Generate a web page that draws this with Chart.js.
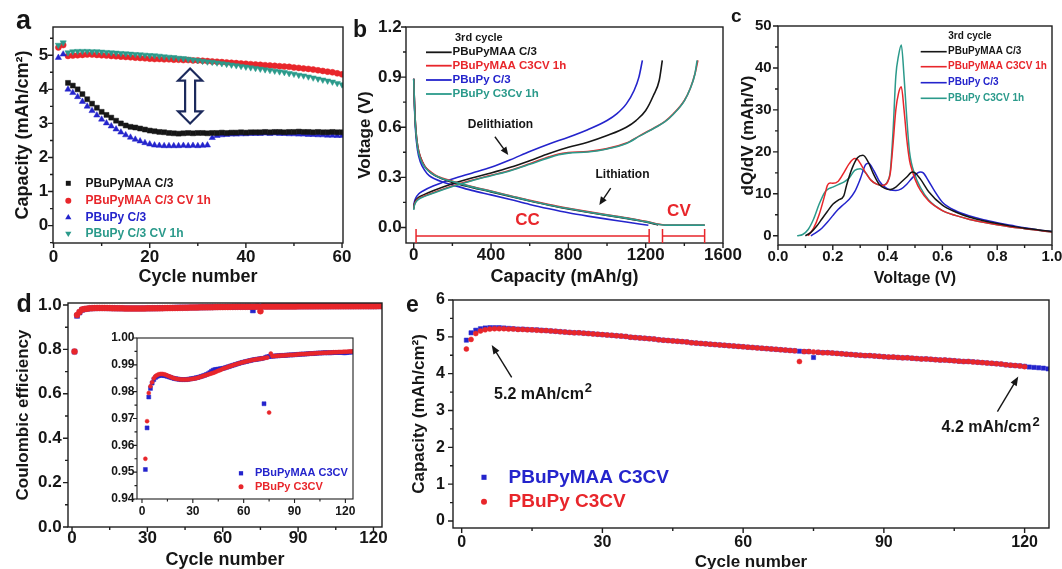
<!DOCTYPE html>
<html><head><meta charset="utf-8">
<script src="https://cdn.jsdelivr.net/npm/chart.js@4.4.1/dist/chart.umd.min.js"></script>
<style>
html,body{margin:0;padding:0;background:#fff;}
body{width:1062px;height:569px;overflow:hidden;position:relative;}
canvas{position:absolute;}
</style></head><body>
<canvas id="letters" width="1062" height="569" style="left:0;top:0;width:1062px;height:569px"></canvas>
<script>
const FONT = "'Liberation Sans', Arial, Helvetica, sans-serif";
const COL = {black:'#161616', red:'#e8262b', blue:'#2424cc', teal:'#2b9a8b', navy:'#1c2a5c'};

// ---------- Panel a: capacity vs cycle ----------
const cyclesA = [1,2,3,4,5,6,7,8,9,10,11,12,13,14,15,16,17,18,19,20,21,22,23,24,25,26,27,28,29,30,
 31,32,33,34,35,36,37,38,39,40,41,42,43,44,45,46,47,48,49,50,51,52,53,54,55,56,57,58,59,60];
const aTicksX = [0,20,40,60];
const aTicksY = [0,1,2,3,4,5];
const aBlack = [null,null,4.19,4.11,4.00,3.86,3.71,3.58,3.46,3.34,
 3.25,3.17,3.08,3.00,2.94,2.90,2.88,2.85,2.82,2.79,
 2.77,2.75,2.74,2.72,2.71,2.70,2.71,2.72,2.71,2.72,
 2.72,2.71,2.72,2.72,2.73,2.72,2.73,2.73,2.74,2.73,
 2.74,2.74,2.74,2.75,2.74,2.75,2.75,2.74,2.75,2.75,
 2.76,2.75,2.75,2.74,2.75,2.74,2.74,2.75,2.74,2.74];
const aRed = [5.23,5.30,4.98,4.99,5.00,5.01,5.02,5.02,5.01,5.00,
 4.99,4.98,4.97,4.96,4.95,4.94,4.93,4.92,4.91,4.90,
 4.89,4.89,4.88,4.88,4.87,4.87,4.86,4.86,4.85,4.85,
 4.84,4.83,4.82,4.81,4.80,4.79,4.78,4.77,4.76,4.75,
 4.74,4.73,4.72,4.71,4.70,4.69,4.68,4.67,4.66,4.64,
 4.63,4.61,4.60,4.58,4.56,4.54,4.52,4.50,4.47,4.44];
const aBlue = [4.93,5.03,4.00,3.90,3.78,3.64,3.50,3.37,3.24,3.12,
 3.01,2.92,2.83,2.74,2.66,2.59,2.53,2.48,2.43,2.39,
 2.36,2.35,2.34,2.34,2.34,2.34,2.35,2.34,2.35,2.34,
 2.35,2.36,2.58,2.64,2.66,2.67,2.68,2.68,2.69,2.69,
 2.70,2.70,2.70,2.71,2.70,2.71,2.70,2.70,2.69,2.69,
 2.68,2.68,2.67,2.67,2.66,2.66,2.65,2.65,2.64,2.64];
const aTeal = [5.30,5.37,5.08,5.11,5.12,5.12,5.12,5.11,5.11,5.10,
 5.09,5.08,5.07,5.06,5.05,5.04,5.03,5.02,5.01,5.00,
 4.99,4.98,4.96,4.95,4.94,4.92,4.91,4.89,4.87,4.85,
 4.83,4.81,4.80,4.78,4.76,4.74,4.72,4.70,4.68,4.66,
 4.64,4.62,4.60,4.58,4.56,4.54,4.52,4.50,4.47,4.45,
 4.42,4.40,4.37,4.34,4.31,4.28,4.25,4.22,4.18,4.14];
const aLabels = ['PBuPyMAA C/3','PBuPyMAA C/3 CV 1h','PBuPy C/3','PBuPy C/3 CV 1h'];

// ---------- Panel b: voltage profiles (3rd cycle) ----------
const bTicksX = [0,400,800,1200,1600];
const bTicksY = [0.0,0.3,0.6,0.9,1.2];
const bBlackLithX = [0,4,10,20,35,55,80,110,150,200,300,400,500,600,700,800,900,1000,1100,1200,1265];
const bBlackLithY = [0.89,0.74,0.60,0.49,0.42,0.37,0.335,0.31,0.29,0.27,0.24,0.213,0.185,0.158,0.133,0.111,0.091,0.072,0.054,0.033,0.015];
const bRedLithX = [0,4,10,20,35,55,80,110,150,200,300,400,500,600,700,800,900,1000,1100,1200,1300,1506];
const bRedLithY = [0.89,0.74,0.60,0.49,0.42,0.37,0.34,0.315,0.295,0.277,0.245,0.218,0.19,0.162,0.137,0.115,0.095,0.076,0.058,0.037,0.015,0.015];
const bTealLithX = [0,4,10,20,35,55,80,110,150,200,300,400,500,600,700,800,900,1000,1100,1200,1300,1506];
const bTealLithY = [0.89,0.73,0.59,0.48,0.41,0.365,0.335,0.312,0.292,0.275,0.243,0.216,0.188,0.16,0.135,0.113,0.093,0.074,0.056,0.035,0.014,0.014];
const bBlueLithX = [0,4,10,20,35,55,80,110,150,200,300,400,500,600,700,800,900,1000,1100,1214];
const bBlueLithY = [0.89,0.72,0.57,0.46,0.39,0.345,0.31,0.29,0.272,0.255,0.222,0.195,0.167,0.138,0.112,0.088,0.068,0.05,0.033,0.013];
const bBlueDelX = [0,3,10,25,50,100,150,200,300,400,500,600,700,800,900,1000,1050,1100,1140,1165,1183];
const bBlueDelY = [0.12,0.15,0.175,0.2,0.22,0.248,0.27,0.29,0.325,0.36,0.405,0.455,0.5,0.54,0.585,0.64,0.68,0.74,0.82,0.9,1.0];
const bBlackDelX = [0,3,10,25,50,100,200,300,400,500,600,700,800,900,1000,1100,1150,1200,1240,1270,1286];
const bBlackDelY = [0.115,0.14,0.16,0.18,0.195,0.22,0.262,0.296,0.326,0.36,0.4,0.443,0.48,0.51,0.55,0.6,0.64,0.7,0.79,0.88,1.0];
const bRedDelX = [0,3,10,25,50,100,200,300,400,500,600,700,750,800,900,1000,1100,1170,1250,1300,1343,1400,1430,1455,1470];
const bRedDelY = [0.11,0.135,0.155,0.172,0.187,0.208,0.248,0.282,0.312,0.343,0.382,0.423,0.44,0.448,0.455,0.472,0.505,0.55,0.6,0.635,0.68,0.76,0.83,0.92,1.0];
const bTealDelX = [0,3,10,25,50,100,200,300,400,500,600,700,750,800,900,1000,1100,1170,1250,1300,1343,1400,1430,1455,1466];
const bTealDelY = [0.105,0.13,0.15,0.168,0.183,0.205,0.245,0.28,0.31,0.34,0.378,0.418,0.435,0.445,0.452,0.47,0.503,0.548,0.598,0.633,0.678,0.758,0.83,0.92,1.0];
const bLabels = ['PBuPyMAA C/3','PBuPyMAA C3CV 1h','PBuPy C/3','PBuPy C3Cv 1h'];

// ---------- Panel c: dQ/dV ----------
const cTicksX = [0,0.2,0.4,0.6,0.8,1.0];
const cTicksY = [0,10,20,30,40,50];
const cBlackX = [0.10,0.12,0.14,0.16,0.18,0.20,0.22,0.24,0.25,0.27,0.29,0.31,0.33,0.35,0.37,0.39,0.41,0.43,0.45,0.47,0.49,0.50,0.52,0.55,0.60,0.65,0.70,0.75,0.80,0.85,0.90,0.95,1.00];
const cBlackY = [0,0.8,2.2,4.0,5.8,7.5,8.5,9.5,12.0,16.0,18.6,19.2,17.5,14.5,12.2,11.3,11.0,11.6,12.8,14.0,15.2,15.0,13.5,10.5,7.3,5.6,4.4,3.6,2.9,2.3,1.8,1.4,1.0];
const cRedX = [0.11,0.13,0.15,0.17,0.18,0.19,0.20,0.22,0.24,0.26,0.28,0.29,0.30,0.32,0.34,0.36,0.38,0.40,0.41,0.42,0.43,0.44,0.45,0.46,0.47,0.48,0.49,0.50,0.52,0.55,0.60,0.65,0.70,0.75,0.80,0.85,0.90,0.95,1.00];
const cRedY = [0,1.8,5.0,9.5,12.0,12.6,12.5,13.0,15.0,17.2,18.4,18.2,17.3,15.0,13.2,12.3,12.0,12.8,15.0,22,30,34,35.5,30,23,18,15.5,13.5,10.8,8.3,6.0,4.8,3.9,3.2,2.6,2.1,1.7,1.3,0.9];
const cBlueX = [0.12,0.14,0.16,0.18,0.20,0.22,0.24,0.26,0.28,0.30,0.32,0.33,0.35,0.37,0.39,0.41,0.43,0.45,0.47,0.49,0.51,0.52,0.53,0.55,0.57,0.60,0.65,0.70,0.75,0.80,0.85,0.90,0.95,1.00];
const cBlueY = [0,0.8,1.8,3.2,4.8,6.3,7.5,8.7,10.5,13.5,17.0,17.3,15.5,13.0,11.6,10.9,10.8,11.2,12.3,13.8,15.0,15.2,15.0,13.0,10.8,8.0,5.9,4.7,3.8,3.1,2.5,1.9,1.4,1.0];
const cTealX = [0.07,0.09,0.11,0.13,0.15,0.17,0.18,0.20,0.22,0.24,0.26,0.28,0.30,0.32,0.34,0.36,0.38,0.40,0.41,0.42,0.43,0.44,0.45,0.46,0.47,0.48,0.50,0.52,0.55,0.60,0.65,0.70,0.75,0.80,0.85,0.90,0.95,1.00];
const cTealY = [0,0.3,1.5,4.0,7.5,10.3,11.0,11.6,12.2,12.8,13.8,15.6,16.0,15.0,13.2,12.3,12.0,13.0,15.5,25,38,43,45.5,38,28,20,14.5,11.5,8.5,6.0,4.8,3.9,3.2,2.6,2.1,1.7,1.3,0.9];
const cLabels = ['PBuPyMAA C/3','PBuPyMAA C3CV 1h','PBuPy C/3','PBuPy C3CV 1h'];

// ---------- Panels d and e: long cycling ----------
const cycles125 = [1,2,3,4,5,6,7,8,9,10,11,12,13,14,15,16,17,18,19,20,21,22,23,24,25,26,27,28,29,30,
 31,32,33,34,35,36,37,38,39,40,41,42,43,44,45,46,47,48,49,50,51,52,53,54,55,56,57,58,59,60,
 61,62,63,64,65,66,67,68,69,70,71,72,73,74,75,76,77,78,79,80,81,82,83,84,85,86,87,88,89,90,
 91,92,93,94,95,96,97,98,99,100,101,102,103,104,105,106,107,108,109,110,111,112,113,114,115,116,117,118,119,120,
 121,122,123,124,125];
const dTicksX = [0,30,60,90,120];
const dTicksY = [0.0,0.2,0.4,0.6,0.8,1.0];
const insetTicksY = [0.94,0.95,0.96,0.97,0.98,0.99,1.00];
const dRed = [0.790,0.955,0.969,0.9795,0.982,0.9835,0.985,0.9858,0.9862,0.9865,
 0.9866,0.9866,0.9865,0.9863,0.9860,0.9857,0.9855,0.9852,0.9850,0.9848,
 0.9847,0.9846,0.9845,0.9845,0.9845,0.9845,0.9845,0.9846,0.9847,0.9848,
 0.9849,0.9850,0.9852,0.9854,0.9856,0.9858,0.9860,0.9862,0.9864,0.9866,
 0.9868,0.9870,0.9872,0.9875,0.9878,0.9880,0.9883,0.9886,0.9888,0.9890,
 0.9893,0.9895,0.9897,0.9899,0.9901,0.9903,0.9905,0.9907,0.9909,0.9910,
 0.9912,0.9913,0.9915,0.9916,0.9918,0.9919,0.9920,0.9921,0.9922,0.9923,
 0.9924,0.9925,0.9926,0.9927,0.9722,0.9942,0.9932,0.9933,0.9933,0.9934,
 0.9934,0.9935,0.9935,0.9935,0.9936,0.9936,0.9937,0.9937,0.9937,0.9938,
 0.9938,0.9939,0.9939,0.9940,0.9940,0.9940,0.9941,0.9941,0.9942,0.9942,
 0.9942,0.9943,0.9943,0.9944,0.9944,0.9944,0.9945,0.9945,0.9945,0.9946,
 0.9946,0.9946,0.9947,0.9947,0.9947,0.9948,0.9948,0.9948,0.9949,0.9949,
 0.9949,0.9950,0.9950,0.9950,0.9951];
const dBlue = [0.790,0.951,0.9665,0.978,0.9812,0.9832,0.9845,0.9853,0.9857,0.9860,
 0.9861,0.9861,0.9860,0.9859,0.9857,0.9855,0.9853,0.9851,0.9849,0.9848,
 0.9847,0.9846,0.9845,0.9845,0.9845,0.9845,0.9846,0.9847,0.9848,0.9849,
 0.9850,0.9852,0.9853,0.9855,0.9857,0.9859,0.9861,0.9864,0.9867,0.9871,
 0.9876,0.9880,0.9882,0.9883,0.9884,0.9885,0.9886,0.9887,0.9889,0.9891,
 0.9893,0.9895,0.9897,0.9899,0.9901,0.9903,0.9905,0.9907,0.9909,0.9910,
 0.9912,0.9913,0.9915,0.9916,0.9918,0.9919,0.9920,0.9921,0.9922,0.9923,
 0.9924,0.9755,0.9928,0.9930,0.9931,0.9932,0.9932,0.9933,0.9933,0.9934,
 0.9934,0.9935,0.9935,0.9935,0.9936,0.9936,0.9937,0.9937,0.9937,0.9938,
 0.9938,0.9939,0.9939,0.9940,0.9940,0.9940,0.9941,0.9941,0.9942,0.9942,
 0.9942,0.9943,0.9943,0.9944,0.9944,0.9944,0.9945,0.9945,0.9945,0.9945,
 0.9945,0.9945,0.9946,0.9946,0.9946,0.9946,0.9946,0.9946,0.9945,0.9945,
 0.9946,0.9947,0.9947,0.9948,0.9948];
const eTicksX = [0,30,60,90,120];
const eTicksY = [0,1,2,3,4,5,6];
const eBlue = [4.91,5.11,5.18,5.22,5.24,5.25,5.25,5.25,5.24,5.23,
 5.22,5.21,5.21,5.20,5.19,5.19,5.18,5.17,5.16,5.15,
 5.14,5.13,5.12,5.11,5.11,5.10,5.09,5.08,5.07,5.06,
 5.05,5.04,5.03,5.02,5.01,4.99,4.98,4.97,4.96,4.95,
 4.94,4.92,4.91,4.90,4.89,4.88,4.87,4.86,4.84,4.83,
 4.82,4.81,4.80,4.79,4.78,4.77,4.76,4.75,4.74,4.73,
 4.72,4.71,4.70,4.69,4.68,4.67,4.66,4.65,4.64,4.63,
 4.62,4.61,4.60,4.60,4.44,4.58,4.57,4.57,4.56,4.55,
 4.54,4.53,4.52,4.51,4.50,4.49,4.49,4.48,4.47,4.46,
 4.45,4.45,4.44,4.43,4.43,4.42,4.41,4.40,4.40,4.39,
 4.38,4.37,4.37,4.36,4.35,4.34,4.33,4.33,4.32,4.31,
 4.30,4.29,4.28,4.27,4.26,4.24,4.23,4.22,4.21,4.20,
 4.18,4.17,4.16,4.15,4.13];
const eRed = [4.67,4.93,5.09,5.16,5.19,5.21,5.22,5.22,5.22,5.21,
 5.21,5.20,5.20,5.19,5.19,5.18,5.17,5.17,5.16,5.15,
 5.14,5.13,5.12,5.11,5.11,5.10,5.09,5.08,5.07,5.06,
 5.05,5.04,5.03,5.02,5.01,4.99,4.98,4.97,4.96,4.95,
 4.94,4.92,4.91,4.90,4.89,4.88,4.87,4.86,4.84,4.83,
 4.82,4.81,4.80,4.79,4.78,4.77,4.76,4.75,4.74,4.73,
 4.72,4.71,4.70,4.69,4.68,4.67,4.66,4.65,4.64,4.63,
 4.62,4.33,4.60,4.60,4.59,4.58,4.57,4.57,4.56,4.55,
 4.54,4.53,4.52,4.51,4.50,4.49,4.49,4.48,4.47,4.46,
 4.45,4.45,4.44,4.43,4.43,4.42,4.41,4.40,4.40,4.39,
 4.38,4.37,4.37,4.36,4.35,4.34,4.33,4.33,4.32,4.31,
 4.30,4.29,4.28,4.27,4.26,4.24,4.23,4.22,4.21,4.19];
const deLabels = ['PBuPyMAA C3CV','PBuPy C3CV'];

// ---------- helpers ----------
function zip(xs, ys) { const out = []; for (let i = 0; i < ys.length; i++) { if (ys[i] !== null) out.push({x: xs[i], y: ys[i]}); } return out; }
function ptDS(xs, ys, color, style, r, order, rot) {
  return {data: zip(xs, ys), showLine: false, pointStyle: style, pointRadius: r, pointRotation: rot || 0,
    pointBackgroundColor: color, pointBorderColor: color, pointBorderWidth: 0.5,
    backgroundColor: color, borderColor: color, order: order};
}
function lineDS(xs, ys, color, order, lw) {
  return {data: zip(xs, ys), showLine: true, borderColor: color, backgroundColor: color, borderWidth: lw || 1.6,
    pointRadius: 0, cubicInterpolationMode: 'monotone', order: order};
}
function txt(ctx, s, x, y, size, color, align, base) {
  ctx.save(); ctx.font = 'bold ' + size + 'px ' + FONT; ctx.fillStyle = color;
  ctx.textAlign = align || 'left'; ctx.textBaseline = base || 'middle'; ctx.fillText(s, x, y); ctx.restore();
}
function supTxt(ctx, base, sup, x, y, size, color) {
  ctx.save(); ctx.fillStyle = color; ctx.textBaseline = 'alphabetic'; ctx.textAlign = 'left';
  ctx.font = 'bold ' + size + 'px ' + FONT; ctx.fillText(base, x, y);
  const w = ctx.measureText(base).width;
  ctx.font = 'bold ' + Math.round(size * 0.8) + 'px ' + FONT; ctx.fillText(sup, x + w + 1, y - size * 0.42);
  ctx.restore();
}
function marker(ctx, style, x, y, r, color) {
  ctx.save(); ctx.fillStyle = color; ctx.beginPath();
  if (style === 'rect') { const s = r * Math.SQRT1_2; ctx.rect(x - s, y - s, 2 * s, 2 * s); }
  else if (style === 'circle') { ctx.arc(x, y, r, 0, Math.PI * 2); }
  else if (style === 'tri' || style === 'triDown') {
    const sgn = style === 'tri' ? 1 : -1;
    for (let k = 0; k < 3; k++) { const ang = k * 2 * Math.PI / 3; const px = x + Math.sin(ang) * r, py = y - sgn * Math.cos(ang) * r; if (k) ctx.lineTo(px, py); else ctx.moveTo(px, py); }
    ctx.closePath();
  }
  ctx.fill(); ctx.restore();
}
function arrow(ctx, x1, y1, x2, y2, color, lw, hl, hw) {
  const a = Math.atan2(y2 - y1, x2 - x1), c = Math.cos(a), s = Math.sin(a);
  ctx.save(); ctx.strokeStyle = color; ctx.fillStyle = color; ctx.lineWidth = lw;
  ctx.beginPath(); ctx.moveTo(x1, y1); ctx.lineTo(x2 - c * hl * 0.8, y2 - s * hl * 0.8); ctx.stroke();
  ctx.beginPath(); ctx.moveTo(x2, y2);
  ctx.lineTo(x2 - hl * c + hw * s, y2 - hl * s - hw * c);
  ctx.lineTo(x2 - hl * c - hw * s, y2 - hl * s + hw * c);
  ctx.closePath(); ctx.fill(); ctx.restore();
}
function frame(c, spec) {
  const ctx = c.ctx, a = c.chartArea;
  ctx.save(); ctx.strokeStyle = '#1e1e1e'; ctx.lineWidth = spec.fw || 1.4;
  ctx.strokeRect(a.left, a.top, a.right - a.left, a.bottom - a.top);
  const ML = spec.ml || 5, MN = spec.mn || 3;
  const marks = (scale, tv) => {
    const out = [], st = tv[1] - tv[0];
    tv.forEach(v => out.push([v, ML]));
    [tv[0] - st / 2].concat(tv.map(v => v + st / 2)).forEach(v => {
      if (v >= scale.min - 1e-9 && v <= scale.max + 1e-9) out.push([v, MN]);
    });
    return out;
  };
  const sx = c.scales.x, sy = c.scales.y;
  ctx.beginPath();
  marks(sx, spec.x.ticks).forEach(([v, l]) => { const p = sx.getPixelForValue(v); ctx.moveTo(p, a.bottom); ctx.lineTo(p, a.bottom + l); });
  marks(sy, spec.y.ticks).forEach(([v, l]) => { const p = sy.getPixelForValue(v); ctx.moveTo(a.left, p); ctx.lineTo(a.left - l, p); });
  ctx.stroke(); ctx.restore();
}
function build(spec) {
  const plot = spec.plot, m = spec.m;
  const left = plot.l - m.L, top = plot.t - m.T;
  const W = plot.r - plot.l + m.L + m.R, H = plot.b - plot.t + m.T + m.B;
  const cv = document.createElement('canvas');
  cv.width = W; cv.height = H;
  cv.style.left = left + 'px'; cv.style.top = top + 'px'; cv.style.width = W + 'px'; cv.style.height = H + 'px';
  document.body.appendChild(cv);
  const P = (x, y) => [x - left, y - top];
  function axis(ax, isX) {
    const o = {
      type: 'linear', min: ax.min, max: ax.max,
      afterBuildTicks: s => { s.ticks = ax.ticks.map(v => ({value: v})); },
      afterFit: s => { if (isX) s.height = m.B; else s.width = m.L; },
      grid: {display: false, drawTicks: false},
      border: {display: false},
      ticks: {autoSkip: false, maxRotation: 0, minRotation: 0, padding: ax.pad, color: '#161616',
        font: {family: FONT, size: ax.size, weight: 'bold'}, callback: v => ax.fmt(v)},
      title: {display: false}
    };
    if (ax.title) {
      const lh = ax.tsize * 1.2;
      o.title = {display: true, text: ax.title, color: '#161616', font: {family: FONT, size: ax.tsize, weight: 'bold'},
        padding: isX ? {top: 0, bottom: (top + H) - ax.tc - lh / 2} : {top: ax.tc - left - lh / 2, bottom: 0}};
    }
    return o;
  }
  return new Chart(cv, {
    type: 'scatter',
    data: {datasets: spec.datasets},
    options: {
      responsive: false, animation: false, devicePixelRatio: 1, events: [],
      layout: {padding: {left: 0, top: m.T, right: m.R, bottom: 0}},
      plugins: {legend: {display: false}, tooltip: {enabled: false}},
      scales: {x: axis(spec.x, true), y: axis(spec.y, false)}
    },
    plugins: [{
      id: 'deco',
      beforeDatasetsDraw(c) {
        if (spec.white) { const a = c.chartArea; c.ctx.save(); c.ctx.fillStyle = '#fff'; c.ctx.fillRect(a.left, a.top, a.right - a.left, a.bottom - a.top); c.ctx.restore(); }
      },
      afterDraw(c) {
        frame(c, spec);
        if (spec.draw) {
          const X = v => c.scales.x.getPixelForValue(v), Y = v => c.scales.y.getPixelForValue(v);
          spec.draw(c.ctx, P, X, Y);
        }
      }
    }]
  });
}
const f0 = v => String(Math.round(v));
const f1 = v => v.toFixed(1);
const f2 = v => v.toFixed(2);

// ---------- Panel a ----------
build({
  plot: {l: 53, t: 27, r: 343, b: 243}, m: {L: 53, T: 22, R: 30, B: 47},
  x: {min: -0.12, max: 60.2, ticks: aTicksX, fmt: f0, size: 17, pad: 3.8, title: 'Cycle number', tsize: 18, tc: 277},
  y: {min: -0.51, max: 5.83, ticks: aTicksY, fmt: f0, size: 17, pad: 4.7, title: 'Capacity (mAh/cm\u00B2)', tsize: 18, tc: 23},
  datasets: [
    ptDS(cyclesA, aBlack, COL.black, 'rect', 3.5, 1),
    ptDS(cyclesA, aRed, COL.red, 'circle', 3, 3),
    ptDS(cyclesA, aBlue, COL.blue, 'triangle', 3.6, 2),
    ptDS(cyclesA, aTeal, COL.teal, 'triangle', 3.6, 0, 180)
  ],
  draw(ctx, P, X, Y) {
    const cx = X(28.4), yt = Y(4.61), yb = Y(3.0), hw = 12, hh = 12, sw = 5;
    ctx.save(); ctx.beginPath();
    ctx.moveTo(cx, yt); ctx.lineTo(cx + hw, yt + hh); ctx.lineTo(cx + sw, yt + hh); ctx.lineTo(cx + sw, yb - hh);
    ctx.lineTo(cx + hw, yb - hh); ctx.lineTo(cx, yb); ctx.lineTo(cx - hw, yb - hh); ctx.lineTo(cx - sw, yb - hh);
    ctx.lineTo(cx - sw, yt + hh); ctx.lineTo(cx - hw, yt + hh); ctx.closePath();
    ctx.fillStyle = '#fff'; ctx.fill(); ctx.strokeStyle = COL.navy; ctx.lineWidth = 2.2; ctx.lineJoin = 'miter'; ctx.stroke(); ctx.restore();
    const rows = [183.3, 200.7, 217.5, 233.5];
    const cols = [COL.black, COL.red, COL.blue, COL.teal];
    const sty = ['rect', 'circle', 'tri', 'triDown'];
    const rr = [3.5, 3, 3.6, 3.6];
    rows.forEach((yy, i) => {
      const [mx, my] = P(68.3, yy); marker(ctx, sty[i], mx, my, rr[i], cols[i]);
      const [tx, ty] = P(85.5, yy); txt(ctx, aLabels[i], tx, ty, 12, cols[i]);
    });
  }
});

// ---------- Panel b ----------
build({
  plot: {l: 406, t: 27, r: 723, b: 243}, m: {L: 66, T: 22, R: 30, B: 47},
  x: {min: -40, max: 1600, ticks: bTicksX, fmt: f0, size: 17, pad: 2.5, title: 'Capacity (mAh/g)', tsize: 18, tc: 277},
  y: {min: -0.093, max: 1.2, ticks: bTicksY, fmt: f1, size: 17, pad: 4.3, title: 'Voltage (V)', tsize: 17, tc: 365},
  datasets: [
    lineDS(bTealLithX, bTealLithY, COL.teal, 0), lineDS(bTealDelX, bTealDelY, COL.teal, 0),
    lineDS(bRedLithX, bRedLithY, COL.red, 1), lineDS(bRedDelX, bRedDelY, COL.red, 1),
    lineDS(bBlackLithX, bBlackLithY, COL.black, 2), lineDS(bBlackDelX, bBlackDelY, COL.black, 2),
    lineDS(bBlueLithX, bBlueLithY, COL.blue, 3), lineDS(bBlueDelX, bBlueDelY, COL.blue, 3)
  ],
  draw(ctx, P, X, Y) {
    let [x, y] = P(455, 38.3); txt(ctx, '3rd cycle', x, y, 11, COL.black);
    const rows = [52.3, 65.7, 80, 94];
    const cols = [COL.black, COL.red, COL.blue, COL.teal];
    rows.forEach((yy, i) => {
      const [x1, y1] = P(426, yy), [x2] = P(451.7, yy);
      ctx.save(); ctx.strokeStyle = cols[i]; ctx.lineWidth = 1.8; ctx.beginPath(); ctx.moveTo(x1, y1); ctx.lineTo(x2, y1); ctx.stroke(); ctx.restore();
      const [tx, ty] = P(452.5, yy); txt(ctx, bLabels[i], tx, ty, 11.5, cols[i]);
    });
    txt(ctx, 'Delithiation', X(449), Y(0.618), 12, COL.black, 'center');
    arrow(ctx, X(420), Y(0.543), X(489), Y(0.434), COL.black, 1.4, 8, 3.5);
    txt(ctx, 'Lithiation', X(1080), Y(0.314), 12, COL.black, 'center');
    arrow(ctx, X(1019), Y(0.235), X(960), Y(0.135), COL.black, 1.4, 8, 3.5);
    txt(ctx, 'CC', X(589), Y(0.045), 17, COL.red, 'center');
    txt(ctx, 'CV', X(1372), Y(0.099), 17, COL.red, 'center');
    ctx.save(); ctx.strokeStyle = COL.red; ctx.lineWidth = 1.5; ctx.beginPath();
    const yb = Y(-0.051);
    [[12, 1218], [1287, 1505]].forEach(([a, b]) => {
      ctx.moveTo(X(a), yb); ctx.lineTo(X(b), yb);
      ctx.moveTo(X(a), yb - 7); ctx.lineTo(X(a), yb + 7);
      ctx.moveTo(X(b), yb - 7); ctx.lineTo(X(b), yb + 7);
    });
    ctx.stroke(); ctx.restore();
  }
});

// ---------- Panel c ----------
build({
  plot: {l: 778, t: 26, r: 1052, b: 245}, m: {L: 48, T: 22, R: 16, B: 45},
  x: {min: 0, max: 1.0, ticks: cTicksX, fmt: f1, size: 15, pad: 2.7, title: 'Voltage (V)', tsize: 16, tc: 279},
  y: {min: -2.2, max: 50, ticks: cTicksY, fmt: f0, size: 15, pad: 6.3, title: 'dQ/dV (mAh/V)', tsize: 17, tc: 748.5},
  datasets: [
    lineDS(cBlackX, cBlackY, COL.black, 0, 1.5),
    lineDS(cRedX, cRedY, COL.red, 1, 1.5),
    lineDS(cBlueX, cBlueY, COL.blue, 2, 1.5),
    lineDS(cTealX, cTealY, COL.teal, 3, 1.5)
  ],
  draw(ctx, P, X, Y) {
    let [x, y] = P(948.3, 36); txt(ctx, '3rd cycle', x, y, 10, COL.black);
    const rows = [51.7, 66.7, 82.7, 98.3];
    const cols = [COL.black, COL.red, COL.blue, COL.teal];
    rows.forEach((yy, i) => {
      const [x1, y1] = P(920.7, yy), [x2] = P(946.7, yy);
      ctx.save(); ctx.strokeStyle = cols[i]; ctx.lineWidth = 1.6; ctx.beginPath(); ctx.moveTo(x1, y1); ctx.lineTo(x2, y1); ctx.stroke(); ctx.restore();
      const [tx, ty] = P(948, yy); txt(ctx, cLabels[i], tx, ty, 10, cols[i]);
    });
  }
});

// ---------- Panel d ----------
build({
  plot: {l: 68, t: 303, r: 382, b: 527}, m: {L: 68, T: 22, R: 30, B: 50},
  x: {min: -1.6, max: 123.4, ticks: dTicksX, fmt: f0, size: 17, pad: 1.5, title: 'Cycle number', tsize: 18, tc: 560},
  y: {min: 0, max: 1.009, ticks: dTicksY, fmt: f1, size: 17, pad: 6.3, title: 'Coulombic efficiency', tsize: 17, tc: 23.3},
  datasets: [
    ptDS(cycles125, dRed, COL.red, 'circle', 3, 0),
    ptDS(cycles125, dBlue, COL.blue, 'rect', 3.5, 1)
  ]
});

// ---------- Panel d inset ----------
build({
  plot: {l: 137, t: 338, r: 353, b: 499}, m: {L: 37, T: 14, R: 14, B: 24},
  x: {min: -2.94, max: 124.5, ticks: dTicksX, fmt: f0, size: 12, pad: 5.5},
  y: {min: 0.94, max: 1.0, ticks: insetTicksY, fmt: f2, size: 12, pad: 2.5},
  fw: 1.1, ml: 4, mn: 2.5, white: true,
  datasets: [
    ptDS(cycles125, dRed, COL.red, 'circle', 2, 0),
    ptDS(cycles125, dBlue, COL.blue, 'rect', 2.8, 1)
  ],
  draw(ctx, P, X, Y) {
    let [mx, my] = P(241, 473.3); marker(ctx, 'rect', mx, my, 3, COL.blue);
    let [tx, ty] = P(255, 473.3); txt(ctx, deLabels[0], tx, ty, 11, COL.blue);
    [mx, my] = P(241, 486.7); marker(ctx, 'circle', mx, my, 2.5, COL.red);
    [tx, ty] = P(255, 486.7); txt(ctx, deLabels[1], tx, ty, 11, COL.red);
  }
});

// ---------- Panel e ----------
build({
  plot: {l: 453, t: 300, r: 1049, b: 528}, m: {L: 53, T: 24, R: 20, B: 50},
  x: {min: -1.85, max: 125.2, ticks: eTicksX, fmt: f0, size: 16, pad: 4.9, title: 'Cycle number', tsize: 17, tc: 562},
  y: {min: -0.19, max: 6.0, ticks: eTicksY, fmt: f0, size: 16, pad: 8, title: 'Capacity (mAh/cm\u00B2)', tsize: 17, tc: 419},
  datasets: [
    ptDS(cycles125, eRed, COL.red, 'circle', 2.5, 0),
    ptDS(cycles125, eBlue, COL.blue, 'rect', 3, 1)
  ],
  draw(ctx, P, X, Y) {
    arrow(ctx, X(10.66), Y(3.9), X(6.4), Y(4.78), COL.black, 1.4, 9, 3.5);
    arrow(ctx, X(114.2), Y(2.97), X(118.65), Y(3.92), COL.black, 1.4, 9, 3.5);
    supTxt(ctx, '5.2 mAh/cm', '2', X(6.9), Y(3.31), 16, COL.black);
    supTxt(ctx, '4.2 mAh/cm', '2', X(102.3), Y(2.41), 16, COL.black);
    let [mx, my] = P(484, 477.3); marker(ctx, 'rect', mx, my, 3.6, COL.blue);
    let [tx, ty] = P(508.5, 477.3); txt(ctx, deLabels[0], tx, ty, 19, COL.blue);
    [mx, my] = P(484, 501.7); marker(ctx, 'circle', mx, my, 3, COL.red);
    [tx, ty] = P(508.5, 501.7); txt(ctx, deLabels[1], tx, ty, 19, COL.red);
  }
});

// ---------- Panel letters ----------
(function () {
  const ctx = document.getElementById('letters').getContext('2d');
  ctx.fillStyle = '#161616'; ctx.textBaseline = 'alphabetic';
  [['a', 16, 28.5, 27], ['b', 353, 36.5, 23], ['c', 731, 22, 19], ['d', 16.5, 311.5, 25], ['e', 406, 312, 23]]
    .forEach(([s, x, y, sz]) => { ctx.font = 'bold ' + sz + 'px ' + FONT; ctx.fillText(s, x, y); });
})();
</script>
</body></html>
